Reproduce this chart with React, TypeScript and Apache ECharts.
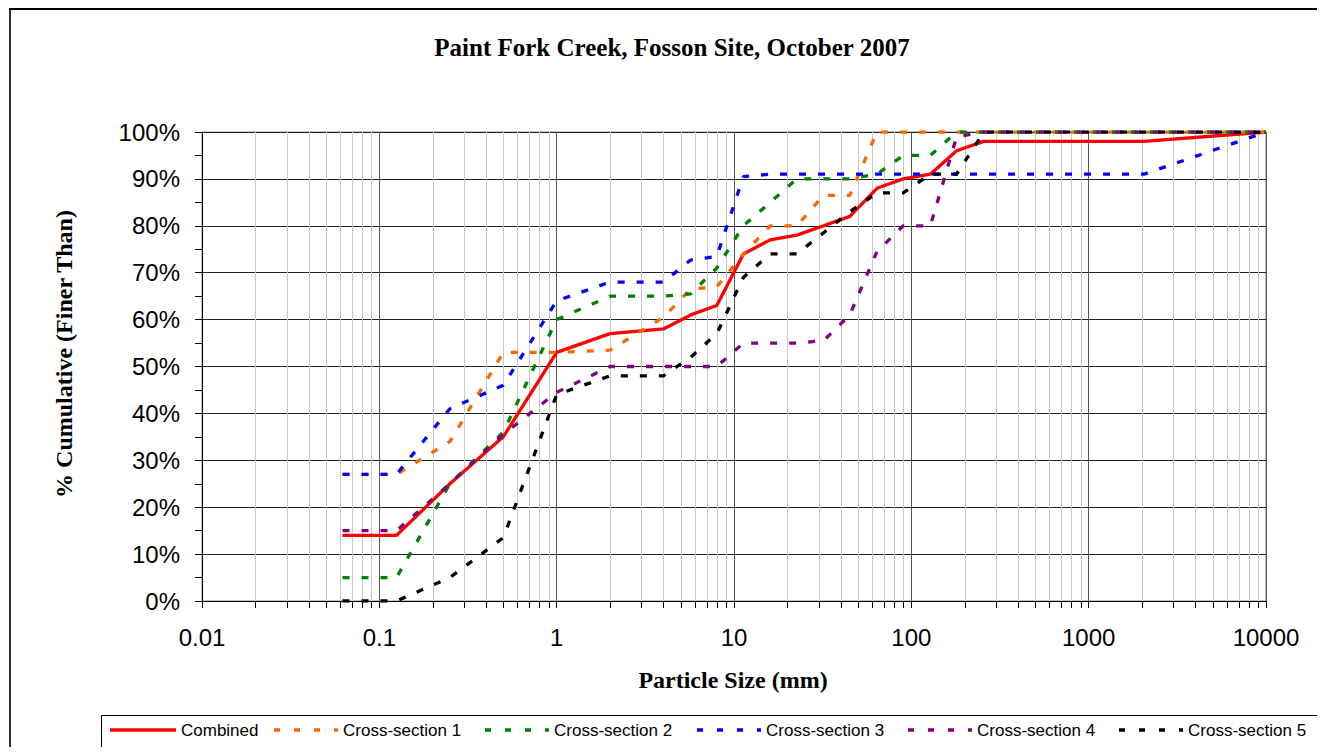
import React, { useEffect, useRef } from 'react';
import * as echarts from 'echarts';

// Particle sizes (mm)
const sizes = [0.062, 0.125, 0.25, 0.5, 1, 2, 4, 5.7, 8, 11.3, 16, 22.6, 32, 45, 64, 90, 128, 180, 256, 2048, 10000];

// Cumulative % finer than
const combined = [14, 14, 25, 35, 53, 57, 58, 61, 63, 74, 77, 78, 80, 82, 88, 90, 91, 96, 98, 98, 100];
const crossSection1 = [27, 27, 34, 53, 53, 53.5, 60.5, 66.5, 67, 74, 80, 80, 86.5, 86.5, 100, 100, 100, 100, 100, 100, 100];
const crossSection2 = [5, 5, 25, 36, 60, 65, 65, 65.5, 71, 80, 85, 90, 90, 90, 91, 95, 95, 100, 100, 100, 100];
const crossSection3 = [27, 27, 41, 46, 64, 68, 68, 72.7, 73.5, 90.5, 91, 91, 91, 91, 91, 91, 91, 91, 91, 91, 100];
const crossSection4 = [15, 15, 25, 35.5, 44.5, 50, 50, 50, 50, 55, 55, 55, 55.5, 61, 74.5, 80, 80, 99, 100, 100, 100];
const crossSection5 = [0, 0, 5, 13.5, 44, 48, 48, 52, 57, 69, 74, 74, 78.5, 83, 87, 87, 91, 91, 100, 100, 100];

const seriesNames = ['Combined', 'Cross-section 1', 'Cross-section 2', 'Cross-section 3', 'Cross-section 4', 'Cross-section 5'];
const seriesValues = [combined, crossSection1, crossSection2, crossSection3, crossSection4, crossSection5];
const seriesColors = ['#FF0000', '#FF6600', '#008000', '#0000FF', '#800080', '#000000'];

const xTickLabels = ['0.01', '0.1', '1', '10', '100', '1000', '10000'];
const xMinDecade = -2;
const xMaxDecade = 4;

const titleText = 'Paint Fork Creek, Fosson Site, October 2007';
const xAxisTitle = 'Particle Size (mm)';
const yAxisTitle = '% Cumulative (Finer Than)';

const SANS = '"Liberation Sans", Arial, sans-serif';
const SERIF = '"Liberation Serif", "Times New Roman", serif';

// legend layout (chart coordinates)
const legendTextX = [173, 335, 546, 758, 969, 1180];
const legendY = 722;

export default function App() {
  const ref = useRef<HTMLDivElement>(null);

  useEffect(() => {
    document.documentElement.style.overflow = 'hidden';
    document.body.style.overflow = 'hidden';
    const chart = echarts.init(ref.current as HTMLDivElement, null, { renderer: 'svg' });

    const lineSeries = seriesNames.map((name, i) => ({
      name,
      type: 'line',
      data: sizes.map((s, j) => [s, seriesValues[i][j]]),
      symbol: 'none',
      showSymbol: false,
      z: 3 + i,
      lineStyle: {
        color: seriesColors[i],
        width: 3.3,
        type: i === 0 ? 'solid' : [7, 12],
        cap: 'butt',
      },
      itemStyle: { color: seriesColors[i] },
      emphasis: { disabled: true },
    }));

    // minor (2..9) log gridlines and ticks, positioned through the axis scale
    const minorSeries = {
      type: 'custom',
      name: 'minor-grid',
      silent: true,
      z: 1,
      clip: false,
      data: [[1, 0]],
      renderItem: (_params: any, api: any) => {
        const children: any[] = [];
        for (let d = xMinDecade; d < xMaxDecade; d++) {
          for (let m = 2; m <= 9; m++) {
            const v = m * Math.pow(10, d);
            const bottom = api.coord([v, 0]);
            const top = api.coord([v, 100]);
            const x = Math.round(bottom[0]) + 0.5;
            children.push({
              type: 'line',
              shape: { x1: x, y1: top[1], x2: x, y2: bottom[1] },
              style: { stroke: '#c8c8c8', lineWidth: 1 },
            });
            children.push({
              type: 'line',
              shape: { x1: x, y1: bottom[1], x2: x, y2: bottom[1] + 7 },
              style: { stroke: '#000', lineWidth: 1 },
            });
          }
        }
        return { type: 'group', children };
      },
    };

    const legendGraphics: any[] = [];
    seriesNames.forEach((name, i) => {
      const tx = legendTextX[i];
      const x1 = i === 0 ? 102 : tx - 69;
      const x2 = tx - 5;
      legendGraphics.push({
        type: 'line',
        silent: true,
        shape: { x1, y1: legendY, x2, y2: legendY },
        style: {
          stroke: seriesColors[i],
          lineWidth: 3.5,
          lineDash: i === 0 ? null : [6, 14],
          lineCap: 'butt',
        },
      });
      legendGraphics.push({
        type: 'text',
        silent: true,
        x: tx,
        y: legendY,
        style: {
          text: name,
          fontSize: 17,
          fontFamily: SANS,
          fill: '#000',
          align: 'left',
          verticalAlign: 'middle',
          textAlign: 'left',
          textVerticalAlign: 'middle',
        },
      });
    });

    const option = {
      animation: false,
      backgroundColor: '#fff',
      grid: { left: 194, top: 124, width: 1064, height: 469, show: true, borderColor: '#888', borderWidth: 1, containLabel: false },
      xAxis: {
        type: 'log',
        logBase: 10,
        min: 0.01,
        max: 10000,
        axisLine: { show: true, onZero: false, lineStyle: { color: '#000', width: 1 } },
        axisTick: { show: true, length: 7, inside: false, lineStyle: { color: '#000' } },
        minorTick: { show: false },
        splitLine: { show: true, lineStyle: { color: '#555', width: 1 } },
        minorSplitLine: { show: false },
        axisLabel: {
          fontSize: 24,
          fontFamily: SANS,
          color: '#000',
          margin: 24,
          formatter: (v: number) => xTickLabels[Math.round(Math.log10(v)) - xMinDecade] ?? String(v),
        },
      },
      yAxis: {
        type: 'value',
        min: 0,
        max: 100,
        interval: 10,
        axisLine: { show: true, lineStyle: { color: '#000', width: 1 } },
        axisTick: { show: true, length: 7, inside: false, lineStyle: { color: '#000' } },
        minorTick: { show: true, splitNumber: 2, length: 7, lineStyle: { color: '#000' } },
        splitLine: { show: true, lineStyle: { color: '#222', width: 1 } },
        axisLabel: {
          fontSize: 24,
          fontFamily: SANS,
          color: '#000',
          margin: 22,
          formatter: '{value}%',
        },
      },
      graphic: [
        {
          type: 'line',
          silent: true,
          shape: { x1: 2, y1: 0, x2: 2, y2: 747 },
          style: { stroke: '#333', lineWidth: 2 },
        },
        {
          type: 'line',
          silent: true,
          shape: { x1: 1, y1: 1, x2: 1317, y2: 1 },
          style: { stroke: '#000', lineWidth: 2 },
        },
        {
          type: 'rect',
          silent: true,
          shape: { x: 93.5, y: 707.5, width: 1219, height: 33 },
          style: { fill: 'none', stroke: '#000', lineWidth: 1 },
        },
        ...legendGraphics,
        {
          type: 'text',
          silent: true,
          x: 664,
          y: 39,
          style: {
            text: titleText,
            fontSize: 25,
            fontWeight: 'bold',
            fontFamily: SERIF,
            fill: '#000',
            align: 'center',
            verticalAlign: 'middle',
            textAlign: 'center',
            textVerticalAlign: 'middle',
          },
        },
        {
          type: 'text',
          silent: true,
          x: 725,
          y: 672,
          style: {
            text: xAxisTitle,
            fontSize: 24,
            fontWeight: 'bold',
            fontFamily: SERIF,
            fill: '#000',
            align: 'center',
            verticalAlign: 'middle',
            textAlign: 'center',
            textVerticalAlign: 'middle',
          },
        },
        {
          type: 'text',
          silent: true,
          x: 56,
          y: 346,
          rotation: Math.PI / 2,
          style: {
            text: yAxisTitle,
            fontSize: 24,
            fontWeight: 'bold',
            fontFamily: SERIF,
            fill: '#000',
            align: 'center',
            verticalAlign: 'middle',
            textAlign: 'center',
            textVerticalAlign: 'middle',
          },
        },
      ],
      series: [minorSeries, ...lineSeries],
    };

    chart.setOption(option as any);
    return () => chart.dispose();
  }, []);

  return <div ref={ref} style={{ width: 1317, height: 747, marginBottom: -8 }} />;
}
